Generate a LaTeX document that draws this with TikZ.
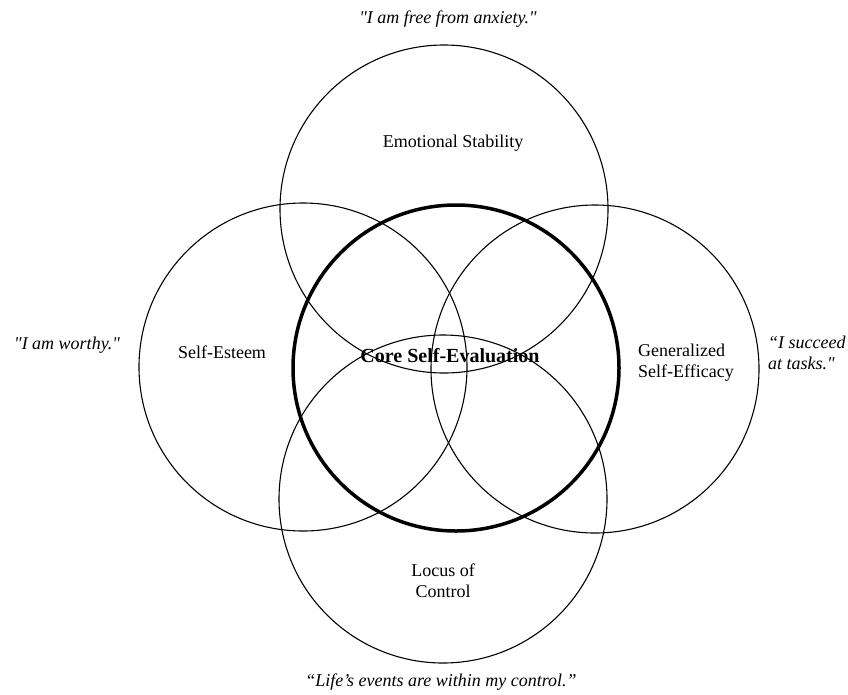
\documentclass[tikz,border=0pt]{standalone}
\usepackage{fontspec}
\setmainfont{Liberation Serif}
\begin{document}
\begin{tikzpicture}[x=1pt,y=-1pt,
  trait/.style={circle,draw=black,line width=1.1pt,minimum size=328pt,inner sep=0pt},
  core/.style={circle,draw=black,line width=3.5pt,minimum size=326pt,inner sep=0pt},
  label/.style={font=\fontsize{18}{20}\selectfont,inner sep=0pt},
  quote/.style={font=\fontsize{18}{21}\selectfont\itshape,inner sep=0pt}]
\useasboundingbox (0,0) rectangle (848,694);

% the four trait circles and the core circle
\node[trait] (es)  at (444,209) {};
\node[trait] (se)  at (303,367) {};
\node[trait] (gse) at (595,369) {};
\node[trait] (loc) at (443,499) {};
\node[core]  (cse) at (456,368) {};

% names inside the circles
\node[label] (esl)  at (453,143) {Emotional Stability};
\node[label] (sel)  at (222,352) {Self-Esteem};
\node[label,font=\fontsize{20}{22}\selectfont\bfseries] (csel) at (450,356) {Core Self-Evaluation};
\node[label,align=left,anchor=west,font=\fontsize{18}{21}\selectfont] (gsel) at (638,363) {Generalized\\Self-Efficacy};
\node[label,align=center,font=\fontsize{18}{21}\selectfont] (locl) at (443,581) {Locus of\\Control};

% statements outside the circles
\node[quote] (q1) at (448,19) {\textquotedbl I am free from anxiety.\textquotedbl};
\node[quote] (q2) at (67,345) {\textquotedbl I am worthy.\textquotedbl};
\node[quote,align=left,anchor=west] (q3) at (768,353) {“I succeed\\at tasks.\textquotedbl};
\node[quote] (q4) at (441,682) {“Life’s events are within my control.”};
\end{tikzpicture}
\end{document}
